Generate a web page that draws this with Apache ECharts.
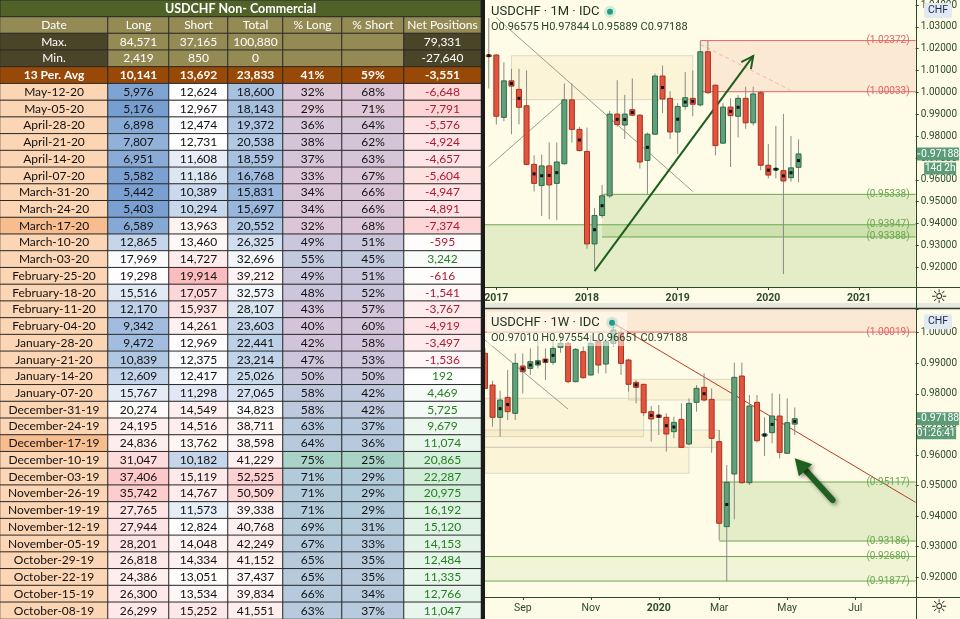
<!DOCTYPE html>
<html>
<head>
<meta charset="utf-8">
<title>USDCHF COT</title>
<script src="https://cdn.jsdelivr.net/npm/echarts@6/dist/echarts.min.js"></script>
<style>
  html, body { margin: 0; padding: 0; background: #fff; }
  #chart { width: 960px; height: 619px; }
</style>
</head>
<body>
<div id="chart"></div>
<script>
// ---------- COT table data ----------
const tableTitle = 'USDCHF Non- Commercial';
const columns = ['Date', 'Long', 'Short', 'Total', '% Long', '% Short', 'Net Positions'];
const maxRow = ['Max.', 84571, 37165, 100880, null, null, 79331];
const minRow = ['Min.', 2419, 850, 0, null, null, -27640];
const avgRow = ['13 Per. Avg', 10141, 13692, 23833, 41, 59, -3551];

const dates = ['May-12-20', 'May-05-20', 'April-28-20', 'April-21-20', 'April-14-20', 'April-07-20',
  'March-31-20', 'March-24-20', 'March-17-20', 'March-10-20', 'March-03-20', 'February-25-20',
  'February-18-20', 'February-11-20', 'February-04-20', 'January-28-20', 'January-21-20',
  'January-14-20', 'January-07-20', 'December-31-19', 'December-24-19', 'December-17-19',
  'December-10-19', 'December-03-19', 'November-26-19', 'November-19-19', 'November-12-19',
  'November-05-19', 'October-29-19', 'October-22-19', 'October-15-19', 'October-08-19'];
const longs = [5976, 5176, 6898, 7807, 6951, 5582, 5442, 5403, 6589, 12865, 17969, 19298, 15516, 12170,
  9342, 9472, 10839, 12609, 15767, 20274, 24195, 24836, 31047, 37406, 35742, 27765, 27944, 28201,
  26818, 24386, 26300, 26299];
const shorts = [12624, 12967, 12474, 12731, 11608, 11186, 10389, 10294, 13963, 13460, 14727, 19914,
  17057, 15937, 14261, 12969, 12375, 12417, 11298, 14549, 14516, 13762, 10182, 15119, 14767, 11573,
  12824, 14048, 14334, 13051, 13534, 15252];
const totals = [18600, 18143, 19372, 20538, 18559, 16768, 15831, 15697, 20552, 26325, 32696, 39212,
  32573, 28107, 23603, 22441, 23214, 25026, 27065, 34823, 38711, 38598, 41229, 52525, 50509, 39338,
  40768, 42249, 41152, 37437, 39834, 41551];
const pctLong = [32, 29, 36, 38, 37, 33, 34, 34, 32, 49, 55, 49, 48, 43, 40, 42, 47, 50, 58, 58, 63, 64,
  75, 71, 71, 71, 69, 67, 65, 65, 66, 63];
const pctShort = [68, 71, 64, 62, 63, 67, 66, 66, 68, 51, 45, 51, 52, 57, 60, 58, 53, 50, 42, 42, 37, 36,
  25, 29, 29, 29, 31, 33, 35, 35, 34, 37];
const netPos = [-6648, -7791, -5576, -4924, -4657, -5604, -4947, -4891, -7374, -595, 3242, -616, -1541,
  -3767, -4919, -3497, -1536, 192, 4469, 5725, 9679, 11074, 20865, 22287, 20975, 16192, 15120, 14153,
  12484, 11335, 12766, 11047];
const markedDates = ['March-17-20', 'December-17-19'];

// ---------- USDCHF monthly candles [month, open, high, low, close] ----------
const monthly = [
  ['2016-12', 1.0171, 1.0340, 1.0018, 1.0166], ['2017-01', 1.0171, 1.0175, 0.9853, 0.9891],
  ['2017-02', 0.9886, 1.0138, 0.9869, 1.0053], ['2017-03', 1.0053, 1.0108, 0.9809, 1.0029],
  ['2017-04', 1.0014, 1.0108, 0.9854, 0.9932], ['2017-05', 0.9939, 1.0101, 0.9667, 0.9671],
  ['2017-06', 0.9671, 0.9712, 0.9547, 0.9584], ['2017-07', 0.9574, 0.9716, 0.9435, 0.9664],
  ['2017-08', 0.9664, 0.9771, 0.9420, 0.9577], ['2017-09', 0.9584, 0.9771, 0.9416, 0.9682],
  ['2017-10', 0.9674, 1.0041, 0.9670, 0.9966], ['2017-11', 0.9966, 1.0041, 0.9771, 0.9831],
  ['2017-12', 0.9831, 0.9843, 0.9730, 0.9734], ['2018-01', 0.9730, 0.9839, 0.9285, 0.9307],
  ['2018-02', 0.9307, 0.9472, 0.9188, 0.9437], ['2018-03', 0.9437, 0.9577, 0.9426, 0.9527],
  ['2018-04', 0.9527, 0.9916, 0.9517, 0.9901], ['2018-05', 0.9901, 1.0056, 0.9843, 0.9853],
  ['2018-06', 0.9851, 0.9989, 0.9787, 0.9901], ['2018-07', 0.9921, 1.0064, 0.9891, 0.9896],
  ['2018-08', 0.9896, 0.9900, 0.9652, 0.9682], ['2018-09', 0.9689, 0.9816, 0.9535, 0.9809],
  ['2018-10', 0.9809, 1.0086, 0.9806, 1.0075], ['2018-11', 1.0075, 1.0123, 0.9906, 0.9970],
  ['2018-12', 0.9973, 1.0006, 0.9787, 0.9819], ['2019-01', 0.9819, 0.9951, 0.9719, 0.9936],
  ['2019-02', 0.9936, 1.0093, 0.9921, 0.9976], ['2019-03', 0.9973, 1.0101, 0.9891, 0.9946],
  ['2019-04', 0.9943, 1.0236, 0.9936, 1.0186], ['2019-05', 1.0186, 1.0236, 0.9993, 0.9999],
  ['2019-06', 1.0033, 1.0036, 0.9712, 0.9757], ['2019-07', 0.9768, 0.9951, 0.9764, 0.9933],
  ['2019-08', 0.9933, 0.9973, 0.9659, 0.9894], ['2019-09', 0.9891, 0.9988, 0.9794, 0.9973],
  ['2019-10', 0.9973, 1.0026, 0.9834, 0.9861], ['2019-11', 0.9861, 1.0026, 0.9849, 0.9993],
  ['2019-12', 0.9999, 1.0008, 0.9644, 0.9667], ['2020-01', 0.9667, 0.9764, 0.9607, 0.9622],
  ['2020-02', 0.9646, 0.9847, 0.9607, 0.9652], ['2020-03', 0.9642, 0.9902, 0.9169, 0.9595],
  ['2020-04', 0.9610, 0.9801, 0.9592, 0.9655], ['2020-05', 0.96575, 0.97844, 0.95889, 0.97188]
];
const monthlyDots = ['2016-12', '2017-03', '2017-04', '2017-06', '2017-07', '2017-08', '2017-09', '2017-12',
  '2018-02', '2018-03', '2018-05', '2018-06', '2018-07', '2018-09', '2018-11', '2019-01', '2019-02',
  '2019-03', '2019-08', '2019-09', '2020-01', '2020-02', '2020-03', '2020-04', '2020-05'];
const monthAxisEnd = '2021-08';

// ---------- USDCHF weekly candles [week, open, high, low, close] ----------
const weekly = [
  ['2019-07-29', 0.99323, 0.99500, 0.98150, 0.98180], ['2019-08-05', 0.98289, 0.98430, 0.96927, 0.97232],
  ['2019-08-12', 0.97232, 0.98103, 0.96601, 0.97798], ['2019-08-19', 0.97885, 0.98778, 0.97145, 0.97417],
  ['2019-08-26', 0.97363, 0.99323, 0.97145, 0.98997], ['2019-09-02', 0.98909, 0.99323, 0.98016, 0.98724],
  ['2019-09-09', 0.98833, 0.99488, 0.98615, 0.99051], ['2019-09-16', 0.98942, 0.99760, 0.98833, 0.99084],
  ['2019-09-23', 0.99138, 0.99488, 0.98452, 0.99030], ['2019-09-30', 0.99030, 0.99760, 0.98950, 0.99488],
  ['2019-10-07', 0.99521, 1.00010, 0.99346, 0.99651], ['2019-10-14', 0.99651, 0.99700, 0.98350, 0.98398],
  ['2019-10-21', 0.98398, 0.99500, 0.98380, 0.99455], ['2019-10-28', 0.99379, 0.99545, 0.98500, 0.98529],
  ['2019-11-04', 0.98616, 0.99925, 0.98600, 0.99651], ['2019-11-11', 0.99706, 0.99980, 0.98670, 0.98943],
  ['2019-11-18', 0.98975, 0.99815, 0.98670, 0.99706], ['2019-11-25', 0.99651, 1.00310, 0.99540, 1.00088],
  ['2019-12-02', 1.00000, 1.00140, 0.98620, 0.98996], ['2019-12-09', 0.99107, 0.99150, 0.98071, 0.98311],
  ['2019-12-16', 0.98376, 0.98452, 0.97690, 0.98213], ['2019-12-23', 0.98311, 0.98330, 0.97275, 0.97384],
  ['2019-12-30', 0.97417, 0.97602, 0.96437, 0.97177], ['2020-01-06', 0.97308, 0.97635, 0.96654, 0.97232],
  ['2020-01-13', 0.97232, 0.97363, 0.96110, 0.96687], ['2020-01-20', 0.96763, 0.97254, 0.96545, 0.97068],
  ['2020-01-27', 0.97166, 0.97690, 0.96240, 0.96250], ['2020-02-03', 0.96359, 0.97854, 0.96320, 0.97690],
  ['2020-02-10', 0.97723, 0.98289, 0.97417, 0.98180], ['2020-02-17', 0.98213, 0.98670, 0.97745, 0.97798],
  ['2020-02-24', 0.97820, 0.98180, 0.96076, 0.96545], ['2020-03-02', 0.96437, 0.96818, 0.93222, 0.93766],
  ['2020-03-09', 0.93657, 0.95674, 0.91877, 0.95107], ['2020-03-16', 0.95379, 0.99020, 0.93896, 0.98540],
  ['2020-03-23', 0.98583, 0.99020, 0.95060, 0.95095], ['2020-03-30', 0.95095, 0.97962, 0.95020, 0.97602],
  ['2020-04-06', 0.97722, 0.97962, 0.96403, 0.96468], ['2020-04-13', 0.96621, 0.97231, 0.95967, 0.96686],
  ['2020-04-20', 0.96730, 0.98017, 0.96381, 0.97275], ['2020-04-27', 0.97275, 0.97995, 0.95891, 0.96087],
  ['2020-05-04', 0.96055, 0.97853, 0.96050, 0.97057], ['2020-05-11', 0.97010, 0.97554, 0.96651, 0.97188]
];
const weeklyDots = ['2019-08-12', '2019-08-19', '2019-09-02', '2019-09-09', '2019-09-16', '2019-09-23',
  '2019-09-30', '2019-12-16', '2019-12-30', '2020-01-06', '2020-01-13', '2020-01-20', '2020-02-17',
  '2020-03-09', '2020-04-13', '2020-04-20', '2020-05-11'];
const weekAxisEnd = '2020-08-31';

// drawings on the monthly chart (prices and anchor bars)
const mZones = [
  { from: '2019-04', to: null, hi: 1.02372, lo: 1.00033, tone: 'red' },
  { from: '2017-03', to: '2019-03', hi: 1.0168, lo: 0.9967, tone: 'sand' },
  { from: '2018-03', to: null, hi: 0.95338, lo: 0.93388, tone: 'green' },
  { from: null, to: null, hi: 0.93947, lo: null, tone: 'green' }
];
const mLevels = [
  { from: '2019-04', price: 1.02372, tone: 'red' }, { from: '2019-04', price: 1.00033, tone: 'red' },
  { from: '2018-03', price: 0.95338, tone: 'green' }, { from: null, price: 0.93947, tone: 'green' },
  { from: '2018-03', price: 0.93388, tone: 'green' }
];
const mLines = [
  { a: ['2017-01', 1.0342], b: ['2019-03', 0.9547], tone: 'gray' },
  { a: ['2016-12', 0.9661], b: ['2017-10', 0.9965], tone: 'gray' },
  { a: ['2019-04', 1.0220], b: ['2020-04', 1.0009], tone: 'pinkDash' }
];
const mArrow = { a: ['2018-02', 0.9183], b: ['2019-11', 1.0167] };

// drawings on the weekly chart
const wZones = [
  { from: null, to: null, hi: null, lo: 1.00019, tone: 'red' },
  { from: null, to: '2019-12-23', hi: 0.97855, lo: 0.96600, tone: 'sand' },
  { from: '2019-12-09', to: '2020-03-16', hi: 0.98476, lo: 0.97799, tone: 'sand' },
  { from: null, to: '2020-03-02', hi: 0.96818, lo: 0.96252, tone: 'sand' },
  { from: null, to: '2020-02-03', hi: 0.96252, lo: 0.95402, tone: 'sand' },
  { from: '2020-03-02', to: null, hi: 0.95117, lo: 0.93186, tone: 'green' },
  { from: null, to: null, hi: 0.92680, lo: 0.91877, tone: 'greenLight' }
];
const wLevels = [
  { from: null, price: 1.00019, tone: 'red' }, { from: '2020-03-02', price: 0.95117, tone: 'green' },
  { from: '2020-03-02', price: 0.93186, tone: 'green' }, { from: null, price: 0.92680, tone: 'green' },
  { from: null, price: 0.91877, tone: 'green' }
];
const wLines = [
  { a: ['2019-11-25', 1.0031], b: ['2020-08-31', 0.9445], tone: 'redLine' },
  { a: ['2019-07-29', 0.9976], b: ['2019-10-14', 0.9750], tone: 'gray' }
];
const wArrow = { a: ['2020-06-15', 0.9453], b: ['2020-05-11', 0.9589] };

// ---------- styles ----------
const FONT_TABLE = 'Lato';
const FONT_CHART = 'Roboto';
const CREAM = '#fefce7';
const AXIS_COLOR = '#2d4a2d';
const UP = { fill: '#62a07c', edge: '#2f6b48' };
const DOWN = { fill: '#e2543f', edge: '#a8321f' };
const ZONE_STYLE = {
  red: { fill: 'rgba(240,120,100,0.14)' },
  sand: { fill: 'rgba(245,205,130,0.16)', stroke: 'rgba(190,190,180,0.55)' },
  green: { fill: 'rgba(110,170,60,0.18)' },
  greenLight: { fill: 'rgba(110,170,60,0.09)' }
};
const LEVEL_COLOR = { red: '#e06666', green: '#6aa84f' };
const LINE_STYLE = {
  gray: { stroke: '#9a9a96', lineWidth: 1 },
  pinkDash: { stroke: 'rgba(230,120,120,0.45)', lineWidth: 1, lineDash: [4, 3] },
  redLine: { stroke: '#c0392b', lineWidth: 1 }
};

// ---------- helpers ----------
function fmt(n) {
  const s = String(Math.abs(n)).replace(/\B(?=(\d{3})+(?!\d))/g, ',');
  return n < 0 ? '-' + s : s;
}
function rgb(h) { h = h.replace('#', ''); return [0, 2, 4].map(i => parseInt(h.substr(i, 2), 16)); }
function mix(a, b, t) {
  t = Math.max(0, Math.min(1, t));
  const A = rgb(a), B = rgb(b);
  return 'rgb(' + A.map((v, i) => Math.round(v + (B[i] - v) * t)).join(',') + ')';
}
function scale3(v, s) {
  return v < s.mid ? mix('#ffffff', s.cLo, (s.mid - v) / (s.mid - s.lo))
                   : mix('#ffffff', s.cHi, (v - s.mid) / (s.hi - s.mid));
}
function stopColor(v, list) {
  if (v <= list[0][0]) return list[0][1];
  for (let i = 1; i < list.length; i++) {
    if (v <= list[i][0]) return mix(list[i - 1][1], list[i][1], (v - list[i - 1][0]) / (list[i][0] - list[i - 1][0]));
  }
  return list[list.length - 1][1];
}
const LONG_SCALE = { lo: 2419, mid: 18500, hi: 70000, cLo: '#5a8ac6', cHi: '#f8696b' };
const SHORT_SCALE = { lo: 5500, mid: 12700, hi: 28700, cLo: '#5a8ac6', cHi: '#f8696b' };
const TOTAL_SCALE = { lo: 3870, mid: 35000, hi: 91500, cLo: '#5a8ac6', cHi: '#f8696b' };
const NET_SCALE = { lo: -27640, mid: 0, hi: 79331, cLo: '#f8696b', cHi: '#63be7b' };
const PCT_STOPS = [[29, '#dfc6d6'], [40, '#d3c4d9'], [50, '#c9c6dc'], [58, '#bec9de'], [66, '#b5cadc'],
  [71, '#b1cbda'], [75, '#a8d3c6']];

// ---------- table as heatmaps, one grid per column ----------
const COL_EDGES = [0, 108, 169, 228, 283, 342, 404, 481];
const ROW_H = 619 / 37;
const rowKeys = Array.from({ length: 4 + dates.length }, (_, i) => 'r' + i);

const grids = [], xAxes = [], yAxes = [], series = [];

function cell(row, text, bg, fg, bold) {
  return { name: text, value: [0, row, 0], itemStyle: { color: bg },
           label: { color: fg, fontWeight: bold ? 'bold' : 'normal' } };
}

columns.forEach((col, c) => {
  grids.push({ left: COL_EDGES[c], width: COL_EDGES[c + 1] - COL_EDGES[c], top: ROW_H, height: ROW_H * rowKeys.length });
  xAxes.push({ type: 'category', gridIndex: c, data: [col], show: false });
  yAxes.push({ type: 'category', gridIndex: c, data: rowKeys, inverse: true, show: false });
  const edgeCol = c === 0 || c === 6;
  const statBg = edgeCol ? '#4a4529' : '#948a54';
  const data = [cell(0, col, '#948a54', '#ffffff', false)];
  [maxRow, minRow].forEach((r, k) => {
    const v = r[c];
    data.push(cell(1 + k, v == null ? '' : (typeof v === 'number' ? fmt(v) : v), statBg, '#ffffff', false));
  });
  const av = avgRow[c];
  data.push(cell(3, c === 0 ? av : (c === 4 || c === 5 ? av + '%' : fmt(av)), '#984807', '#ffffff', true));
  dates.forEach((d, i) => {
    const row = 4 + i;
    if (c === 0) data.push(cell(row, d, markedDates.includes(d) ? '#f8bd8e' : '#fcd5b4', '#111', false));
    if (c === 1) data.push(cell(row, fmt(longs[i]), scale3(longs[i], LONG_SCALE), '#111', false));
    if (c === 2) data.push(cell(row, fmt(shorts[i]), scale3(shorts[i], SHORT_SCALE), '#111', false));
    if (c === 3) data.push(cell(row, fmt(totals[i]), scale3(totals[i], TOTAL_SCALE), '#111', false));
    if (c === 4) data.push(cell(row, pctLong[i] + '%', stopColor(pctLong[i], PCT_STOPS), '#111', false));
    if (c === 5) data.push(cell(row, pctShort[i] + '%', stopColor(100 - pctShort[i], PCT_STOPS), '#111', false));
    if (c === 6) data.push(cell(row, fmt(netPos[i]), scale3(netPos[i], NET_SCALE),
                                netPos[i] < 0 ? '#b01a33' : '#23801f', false));
  });
  series.push({
    type: 'heatmap', xAxisIndex: c, yAxisIndex: c, silent: true, emphasis: { disabled: true },
    itemStyle: { borderColor: '#2a2a2a', borderWidth: 1 },
    label: { show: true, fontFamily: FONT_TABLE, fontSize: 12, formatter: p => p.name },
    data
  });
});

// ---------- candle charts ----------
const monthCats = monthly.map(r => r[0]);
while (monthCats[monthCats.length - 1] < monthAxisEnd) {
  let [y, m] = monthCats[monthCats.length - 1].split('-').map(Number);
  m++; if (m > 12) { m = 1; y++; }
  monthCats.push(y + '-' + String(m).padStart(2, '0'));
}
const weekCats = weekly.map(r => r[0]);
while (weekCats[weekCats.length - 1] < weekAxisEnd) {
  const d = new Date(weekCats[weekCats.length - 1] + 'T00:00:00Z');
  d.setUTCDate(d.getUTCDate() + 7);
  weekCats.push(d.toISOString().slice(0, 10));
}
const MONTHS = ['Jan', 'Feb', 'Mar', 'Apr', 'May', 'Jun', 'Jul', 'Aug', 'Sep', 'Oct', 'Nov', 'Dec'];

function renderCandle(params, api) {
  const x = api.value(0), o = api.value(1), h = api.value(2), l = api.value(3), c = api.value(4);
  const pO = api.coord([x, o]), pC = api.coord([x, c]), pH = api.coord([x, h]), pL = api.coord([x, l]);
  const w = 5, up = c >= o, st = up ? UP : DOWN;
  const top = Math.min(pO[1], pC[1]), bot = Math.max(pO[1], pC[1]);
  const kids = [
    { type: 'line', shape: { x1: pH[0], y1: pH[1], x2: pL[0], y2: pL[1] }, style: { stroke: '#8a8a86', lineWidth: 1 } },
    { type: 'rect', shape: { x: pO[0] - w / 2, y: top, width: w, height: Math.max(bot - top, 1.5) },
      style: { fill: st.fill, stroke: st.edge, lineWidth: 1 } }
  ];
  if (api.value(5)) {
    kids.push({ type: 'rect', shape: { x: pO[0] - 1.5, y: (top + bot) / 2 - 1.5, width: 3, height: 3 }, style: { fill: '#111' } });
  }
  return { type: 'group', children: kids };
}

function drawingRenderer(cats, zones, levels, lines, arrow, bold) {
  return function (params, api) {
    const cs = params.coordSys;
    const pt = (key, p) => api.coord([cats.indexOf(key), p]);
    const xOf = key => pt(key, 1)[0];
    const yOf = p => api.coord([0, p])[1];
    const kids = [];
    zones.forEach(z => {
      const x1 = z.from == null ? cs.x : xOf(z.from);
      const x2 = z.to == null ? cs.x + cs.width : xOf(z.to);
      const y1 = z.hi == null ? cs.y : yOf(z.hi);
      const y2 = z.lo == null ? cs.y + cs.height : yOf(z.lo);
      const st = ZONE_STYLE[z.tone];
      kids.push({ type: 'rect', shape: { x: x1, y: y1, width: x2 - x1, height: y2 - y1 },
                  style: { fill: st.fill, stroke: st.stroke || null, lineWidth: 1 } });
    });
    lines.forEach(ln => {
      const a = pt(ln.a[0], ln.a[1]), b = pt(ln.b[0], ln.b[1]);
      kids.push({ type: 'line', shape: { x1: a[0], y1: a[1], x2: b[0], y2: b[1] }, style: Object.assign({}, LINE_STYLE[ln.tone]) });
    });
    levels.forEach(lv => {
      const y = yOf(lv.price), x1 = lv.from == null ? cs.x : xOf(lv.from), x2 = cs.x + cs.width;
      kids.push({ type: 'line', shape: { x1, y1: y, x2, y2: y }, style: { stroke: LEVEL_COLOR[lv.tone], lineWidth: 1 } });
      kids.push({ type: 'text', x: x2 - 6, y, style: { text: '(' + lv.price.toFixed(5) + ')', fill: LEVEL_COLOR[lv.tone],
                  font: '10px ' + FONT_CHART, align: 'right', verticalAlign: 'middle' } });
    });
    const a = pt(arrow.a[0], arrow.a[1]), b = pt(arrow.b[0], arrow.b[1]);
    const len = Math.hypot(b[0] - a[0], b[1] - a[1]);
    const ux = (b[0] - a[0]) / len, uy = (b[1] - a[1]) / len, px = -uy, py = ux;
    if (!bold) {
      const L = 12, W = 6;
      kids.push({ type: 'line', shape: { x1: a[0], y1: a[1], x2: b[0], y2: b[1] }, style: { stroke: '#1d5e1d', lineWidth: 2 } });
      kids.push({ type: 'polyline', shape: { points: [[b[0] - ux * L + px * W, b[1] - uy * L + py * W], b,
                  [b[0] - ux * L - px * W, b[1] - uy * L - py * W]] }, style: { stroke: '#1d5e1d', lineWidth: 2, fill: null } });
    } else {
      const L = 16, W = 9;
      const shadow = { shadowBlur: 4, shadowColor: 'rgba(0,0,0,0.45)', shadowOffsetX: 2, shadowOffsetY: 2 };
      kids.push({ type: 'line', shape: { x1: a[0], y1: a[1], x2: b[0] - ux * (L - 2), y2: b[1] - uy * (L - 2) },
                  style: Object.assign({ stroke: '#1f5f1f', lineWidth: 6, lineCap: 'round' }, shadow) });
      kids.push({ type: 'polygon', shape: { points: [b, [b[0] - ux * L + px * W, b[1] - uy * L + py * W],
                  [b[0] - ux * L - px * W, b[1] - uy * L - py * W]] }, style: Object.assign({ fill: '#1f5f1f' }, shadow) });
    }
    return { type: 'group', children: kids };
  };
}

function priceTagRenderer(subText, subW) {
  return function (params, api) {
    const cs = params.coordSys;
    const y = api.coord([api.value(0), api.value(1)])[1];
    const x0 = cs.x + cs.width + 0.5;
    return { type: 'group', children: [
      { type: 'rect', shape: { x: x0, y: y - 6.5, width: 43, height: 13 }, style: { fill: '#5b9b77' } },
      { type: 'text', x: x0 + 24, y, style: { text: api.value(1).toFixed(5), fill: '#fff', font: '10.5px ' + FONT_CHART,
        align: 'center', verticalAlign: 'middle' } },
      { type: 'line', shape: { x1: x0 + 1, y1: y, x2: x0 + 4, y2: y }, style: { stroke: '#fff', lineWidth: 1 } },
      { type: 'rect', shape: { x: x0 + 40 - subW, y: y + 8.5, width: subW, height: 12 }, style: { fill: '#5b9b77' } },
      { type: 'text', x: x0 + 40 - subW / 2, y: y + 14.5, style: { text: subText, fill: '#fff', font: '10px ' + FONT_CHART,
        align: 'center', verticalAlign: 'middle' } }
    ] };
  };
}

function candleSeries(rows, cats, dots, gi) {
  return {
    type: 'custom', xAxisIndex: gi, yAxisIndex: gi, clip: true, silent: true, z: 4,
    renderItem: renderCandle, encode: { x: 0, y: [1, 2, 3, 4] },
    data: rows.map(r => [cats.indexOf(r[0]), r[1], r[2], r[3], r[4], dots.includes(r[0]) ? 1 : 0])
  };
}

const panels = [
  { cats: monthCats, rows: monthly, dots: monthlyDots, zones: mZones, levels: mLevels, lines: mLines, arrow: mArrow,
    bold: false, top: 0, height: 287, min: 0.911, max: 1.040, split: 13, boundary: true, tag: '14d 2h', tagW: 32,
    label: (v, i) => v.endsWith('-01') },
  { cats: weekCats, rows: weekly, dots: weeklyDots, zones: wZones, levels: wLevels, lines: wLines, arrow: wArrow,
    bold: true, top: 309, height: 288, min: 0.91356, max: 1.00775, split: 9, boundary: false, tag: '01:26:41', tagW: 40,
    label: (v, i) => i > 0 && [0, 2, 4, 6, 8, 10].includes(new Date(v + 'T00:00:00Z').getUTCMonth()) &&
                     weekCats[i - 1].slice(5, 7) !== v.slice(5, 7) }
];

panels.forEach((p, k) => {
  const gi = 7 + k;
  grids.push({ left: 485, width: 431, top: p.top, height: p.height });
  xAxes.push({
    type: 'category', gridIndex: gi, data: p.cats, boundaryGap: p.boundary,
    axisLine: { show: false },
    axisTick: { show: true, alignWithLabel: true, length: 3, interval: (i, v) => p.label(v, i), lineStyle: { color: AXIS_COLOR } },
    axisLabel: {
      interval: (i, v) => p.label(v, i), margin: 6, color: AXIS_COLOR, fontFamily: FONT_CHART, fontSize: 10.5,
      formatter: v => {
        const d = new Date((v.length === 7 ? v + '-01' : v) + 'T00:00:00Z');
        return d.getUTCMonth() === 0 ? '{y|' + d.getUTCFullYear() + '}' : MONTHS[d.getUTCMonth()];
      },
      rich: { y: { fontWeight: 'bold', fontSize: 10.5, fontFamily: FONT_CHART, color: AXIS_COLOR } }
    },
    splitLine: { show: false }
  });
  yAxes.push({
    type: 'value', gridIndex: gi, position: 'right', min: p.min, max: p.max, splitNumber: p.split, scale: true,
    axisLine: { show: false },
    axisTick: { show: true, length: 3, lineStyle: { color: AXIS_COLOR } },
    axisLabel: { margin: 5, color: AXIS_COLOR, fontFamily: FONT_CHART, fontSize: 10,
                 formatter: v => Math.abs(v * 100 - Math.round(v * 100)) < 1e-6 ? v.toFixed(5) : '' },
    splitLine: { show: false }
  });
  series.push({ type: 'custom', xAxisIndex: gi, yAxisIndex: gi, clip: true, silent: true, z: 3,
                renderItem: drawingRenderer(p.cats, p.zones, p.levels, p.lines, p.arrow, p.bold), data: [[0, 1]] });
  series.push(candleSeries(p.rows, p.cats, p.dots, gi));
  const last = p.rows[p.rows.length - 1];
  series.push({ type: 'custom', xAxisIndex: gi, yAxisIndex: gi, clip: false, silent: true, z: 6,
                renderItem: priceTagRenderer(p.tag, p.tagW), data: [[p.cats.indexOf(last[0]), last[4]]] });
});

// ---------- frame, legends, labels ----------
function legend(y, title, ohlc, dotX) {
  return [
    { type: 'text', x: 491, y, z: 50, style: { text: title, font: '13px ' + FONT_CHART, fill: '#223322', verticalAlign: 'middle' } },
    { type: 'circle', shape: { cx: dotX, cy: y, r: 6 }, z: 50, style: { fill: 'rgba(30,160,140,0.18)' } },
    { type: 'circle', shape: { cx: dotX, cy: y, r: 3 }, z: 51, style: { fill: '#1e9e8a' } },
    { type: 'text', x: 491, y: y + 15.5, z: 50, style: { text: ohlc, font: '11px ' + FONT_CHART, fill: '#2a452a', verticalAlign: 'middle' } }
  ];
}
function ohlcText(r) { return 'O' + r[1].toFixed(5) + ' H' + r[2].toFixed(5) + ' L' + r[3].toFixed(5) + ' C' + r[4].toFixed(5); }
function chfBox(cy) {
  return [
    { type: 'rect', shape: { x: 924, y: cy - 7.5, width: 28, height: 15, r: 2 }, z: 50, style: { fill: '#e3e9f3' } },
    { type: 'text', x: 938, y: cy, z: 51, style: { text: 'CHF', font: '10.5px ' + FONT_CHART, fill: '#1d2b4a', align: 'center', verticalAlign: 'middle' } }
  ];
}
function gear(cy) {
  return { type: 'text', x: 939, y: cy, z: 50, style: { text: '\u263C', font: '19px "DejaVu Sans"', fill: '#1d1d1d', align: 'center', verticalAlign: 'middle' } };
}

const graphic = [
  { type: 'rect', shape: { x: 485, y: 0, width: 475, height: 619 }, z: -10, style: { fill: CREAM } },
  { type: 'rect', shape: { x: 485, y: 303, width: 475, height: 5 }, z: 40, style: { fill: '#e8e7de' } },
  { type: 'line', shape: { x1: 485, y1: 308.5, x2: 960, y2: 308.5 }, z: 41, style: { stroke: '#2d3d2d', lineWidth: 1.5 } },
  { type: 'line', shape: { x1: 916.5, y1: 0, x2: 916.5, y2: 619 }, z: 41, style: { stroke: AXIS_COLOR, lineWidth: 1 } },
  { type: 'line', shape: { x1: 485, y1: 287.5, x2: 960, y2: 287.5 }, z: 41, style: { stroke: AXIS_COLOR, lineWidth: 1 } },
  { type: 'line', shape: { x1: 485, y1: 597.5, x2: 960, y2: 597.5 }, z: 41, style: { stroke: AXIS_COLOR, lineWidth: 1 } },
  { type: 'rect', shape: { x: 481, y: 0, width: 4, height: 619 }, z: 41, style: { fill: '#1b1b1b' } },
  { type: 'rect', shape: { x: 0, y: 0, width: 481, height: ROW_H }, z: 40, style: { fill: '#4f6228', stroke: '#2a2a2a', lineWidth: 1 } },
  { type: 'text', x: 240.5, y: ROW_H / 2 + 0.5, z: 41, style: { text: tableTitle, font: 'bold 12.5px ' + FONT_TABLE, fill: '#ffffff',
    align: 'center', verticalAlign: 'middle' } },
  { type: 'rect', shape: { x: 487, y: 312, width: 140, height: 34 }, z: 45, style: { fill: 'rgba(255,255,244,0.55)' } },
  ...legend(11.7, 'USDCHF \u00B7 1M \u00B7 IDC', ohlcText(monthly[monthly.length - 1]), 610),
  ...legend(322.7, 'USDCHF \u00B7 1W \u00B7 IDC', ohlcText(weekly[weekly.length - 1]), 612),
  ...chfBox(10.5), ...chfBox(321.7),
  gear(298), gear(608)
];

const chart = echarts.init(document.getElementById('chart'));
chart.setOption({
  animation: false,
  backgroundColor: '#ffffff',
  grid: grids,
  xAxis: xAxes,
  yAxis: yAxes,
  series,
  graphic
});
</script>
</body>
</html>
